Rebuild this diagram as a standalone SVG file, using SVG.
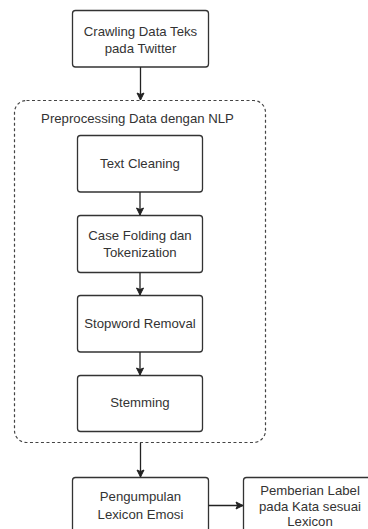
<svg xmlns="http://www.w3.org/2000/svg" width="368" height="529" viewBox="0 0 368 529">
<defs>
<marker id="ah" markerWidth="10" markerHeight="10" refX="8" refY="5" orient="auto" markerUnits="userSpaceOnUse">
<path d="M1,1.5 L8,5 L1,8.5 L2.5,5 Z" fill="#222" stroke="#222" stroke-width="1"/>
</marker>
</defs>
<style>
.box{fill:#fff;stroke:#333;stroke-width:1.3}
.grp{fill:none;stroke:#444;stroke-width:1.2;stroke-dasharray:3,2.5}
.t{font-family:"Liberation Sans",Arial,sans-serif;font-size:13.2px;fill:#333;text-anchor:middle}
.c{stroke:#222;stroke-width:1.3;fill:none;marker-end:url(#ah)}
</style>
<rect width="368" height="529" fill="#fff"/>
<g id="preprocessing">
<rect class="grp" x="14.5" y="100.5" width="251" height="342" rx="12"/>
<text class="t" x="137.5" y="123">Preprocessing Data dengan NLP</text>
</g>
<g id="crawling">
<rect class="box" x="72.5" y="10.5" width="136" height="56.5" rx="3"/>
<text class="t" x="140.5" y="36">Crawling Data Teks</text>
<text class="t" x="140.5" y="53">pada Twitter</text>
</g>
<g id="cleaning">
<rect class="box" x="77.5" y="135.5" width="125" height="56.5" rx="3"/>
<text class="t" x="140" y="168">Text Cleaning</text>
</g>
<g id="casefolding">
<rect class="box" x="77.5" y="215.5" width="125" height="57" rx="3"/>
<text class="t" x="140" y="240">Case Folding dan</text>
<text class="t" x="140" y="257">Tokenization</text>
</g>
<g id="stopword">
<rect class="box" x="77.5" y="295.5" width="125" height="56.5" rx="3"/>
<text class="t" x="140" y="328">Stopword Removal</text>
</g>
<g id="stemming">
<rect class="box" x="77.5" y="375.5" width="125" height="56" rx="3"/>
<text class="t" x="140" y="407">Stemming</text>
</g>
<g id="pengumpulan">
<rect class="box" x="72.5" y="477.5" width="136" height="57" rx="3"/>
<text class="t" x="140.5" y="501">Pengumpulan</text>
<text class="t" x="140.5" y="519">Lexicon Emosi</text>
</g>
<g id="pemberian">
<rect class="box" x="243.5" y="477.5" width="136" height="57" rx="3"/>
<text class="t" x="310" y="495">Pemberian Label</text>
<text class="t" x="310" y="510.5">pada Kata sesuai</text>
<text class="t" x="310" y="526">Lexicon</text>
</g>
<g id="connectors">
<line class="c" x1="140.5" y1="67" x2="140.5" y2="100"/>
<line class="c" x1="140" y1="192" x2="140" y2="215"/>
<line class="c" x1="140" y1="272.5" x2="140" y2="295"/>
<line class="c" x1="140" y1="352" x2="140" y2="375"/>
<line class="c" x1="140.5" y1="443" x2="140.5" y2="477"/>
<line class="c" x1="208.5" y1="505.5" x2="243" y2="505.5"/>
</g>
</svg>
